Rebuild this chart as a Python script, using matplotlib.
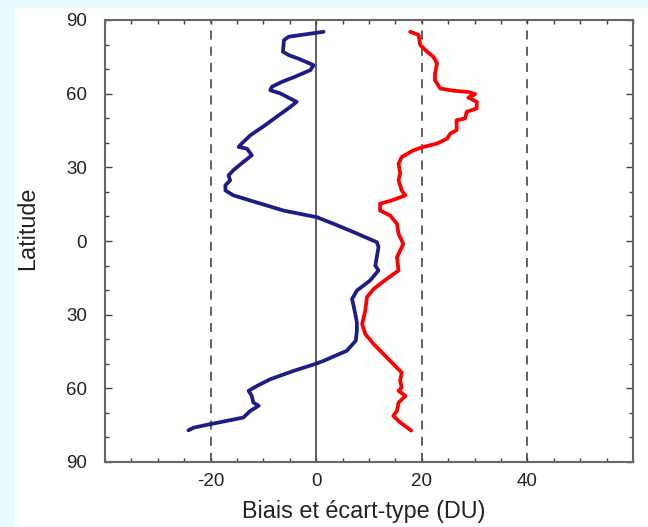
import numpy as np
import matplotlib
matplotlib.use("Agg")
import matplotlib.pyplot as plt
from matplotlib.patches import Rectangle
from matplotlib.ticker import MultipleLocator, FixedLocator, FuncFormatter

# bias (DU) vs latitude
bias_lat = [85.2, 83.2, 81.8, 77.1, 75.7, 74.3, 71.6, 69.6, 66.9, 64.8, 62.8, 61.4,
            60.1, 58.0, 56.7, 54.6, 51.2, 47.1, 45.8, 43.0, 39.7, 38.3, 37.6, 34.9,
            32.2, 28.8, 26.7, 24.7, 22.7, 20.6, 18.6, 16.5, 12.4, 9.7, 7.0, 3.6,
            -0.5, -2.5, -10.0, -12.0, -16.1, -20.2, -23.6, -29.7, -33.1, -36.5,
            -40.6, -44.7, -48.8, -50.1, -52.9, -56.3, -59.0, -61.0, -63.1, -65.8,
            -67.1, -69.2, -71.9, -74.6, -76.0, -77.1]
bias_val = [1.4, -5.2, -6.1, -6.3, -5.2, -3.4, -0.5, -1.1, -4.0, -6.5, -8.4, -8.7,
            -6.8, -4.9, -3.7, -4.9, -7.1, -9.7, -10.6, -12.5, -14.1, -14.7, -13.1, -12.2,
            -13.8, -15.7, -16.6, -16.3, -17.2, -17.2, -15.7, -12.5, -6.2, 0.1, 3.3, 7.1,
            11.5, 11.8, 11.2, 11.8, 10.2, 7.7, 6.8, 7.4, 7.7, 7.7,
            7.5, 5.8, 1.4, -0.2, -4.3, -8.7, -11.2, -12.8, -12.2, -11.9,
            -10.9, -12.5, -13.8, -20.1, -23.2, -24.2]

# standard deviation (DU) vs latitude
std_lat = [85.2, 83.9, 79.8, 77.1, 75.0, 72.3, 68.2, 65.5, 62.1, 61.2, 60.7, 59.8,
           58.4, 56.7, 54.0, 52.6, 49.9, 49.2, 45.1, 43.8, 41.7, 39.7, 38.3, 36.9,
           34.2, 31.5, 27.4, 24.7, 20.6, 18.6, 16.5, 15.2, 12.4, 10.4, 7.0, 2.9,
           -1.2, -6.6, -12.0, -15.4, -19.5, -22.9, -28.4, -33.8, -37.9, -42.0,
           -43.3, -48.8, -53.6, -57.0, -59.7, -61.0, -63.1, -65.8, -69.2, -71.2,
           -73.9, -77.2]
std_val = [17.8, 19.4, 19.7, 21.0, 22.2, 22.9, 22.5, 22.5, 23.5, 26.0, 28.8, 30.1,
           28.8, 30.4, 30.4, 28.5, 28.2, 26.6, 26.6, 25.4, 24.8, 22.9, 20.3, 18.4,
           16.2, 15.6, 15.9, 15.6, 16.2, 16.9, 14.3, 12.1, 12.1, 14.0, 15.3, 15.6,
           16.5, 15.3, 15.6, 13.4, 10.9, 9.6, 9.3, 8.7, 9.3, 10.9,
           11.5, 14.0, 16.2, 15.9, 16.2, 15.6, 16.9, 15.6, 15.3, 14.6,
           15.9, 18.0]

x_ticks = [-20, 0, 20, 40]
dashed_x = [-20, 20, 40]
y_ticks = [-90, -60, -30, 0, 30, 60, 90]

plt.rcParams['font.family'] = ['Liberation Sans', 'DejaVu Sans']
plt.rcParams['axes.unicode_minus'] = False

fig = plt.figure(figsize=(6.48, 5.27), dpi=100, facecolor='#e6fbff')
# white panel behind the chart, leaving a cyan strip top and left
fig.patches.append(Rectangle((15 / 648, 0), 1 - 15 / 648, 1 - 8 / 527,
                             transform=fig.transFigure, facecolor='white',
                             edgecolor='none', zorder=-5))
ax = fig.add_axes([105 / 648, 65 / 527, 528 / 648, 442 / 527])

for xv in dashed_x:
    ax.axvline(xv, color='#555555', lw=1.3, ls=(0, (5, 4)), zorder=1)
ax.axvline(0, color='#444444', lw=1.2, zorder=1)

ax.plot(bias_val, bias_lat, color='#1c1c8a', lw=2.7, zorder=3,
        solid_capstyle='round', solid_joinstyle='round')
ax.plot(std_val, std_lat, color='#ff0000', lw=2.7, zorder=3,
        solid_capstyle='round', solid_joinstyle='round')

ax.set_xlim(-40, 60)
ax.set_ylim(-90, 90)
ax.xaxis.set_major_locator(FixedLocator(x_ticks))
ax.xaxis.set_minor_locator(MultipleLocator(5))
ax.yaxis.set_major_locator(FixedLocator(y_ticks))
ax.yaxis.set_minor_locator(MultipleLocator(10))
ax.yaxis.set_major_formatter(FuncFormatter(lambda v, p: f"{abs(int(v))}"))

ax.tick_params(which='both', direction='in', top=True, right=True,
               color='#444444', width=1.0, labelsize=13.5, labelcolor='#222222')
ax.tick_params(axis='x', which='major', length=3, pad=8)
ax.tick_params(axis='x', which='minor', length=3)
ax.tick_params(axis='y', which='major', length=5, pad=13)
ax.tick_params(axis='y', which='minor', length=3)

for s in ax.spines.values():
    s.set_color('#666666')
    s.set_linewidth(1.5)

ax.set_xlabel('Biais et écart-type (DU)', fontsize=16.8, color='#222222')
ax.set_ylabel('Latitude', fontsize=16.8, color='#222222')
ax.xaxis.set_label_coords(0.49, -0.085)
ax.yaxis.set_label_coords(-0.125, 0.529)

fig.savefig('out.png', dpi=100, facecolor=fig.get_facecolor())
